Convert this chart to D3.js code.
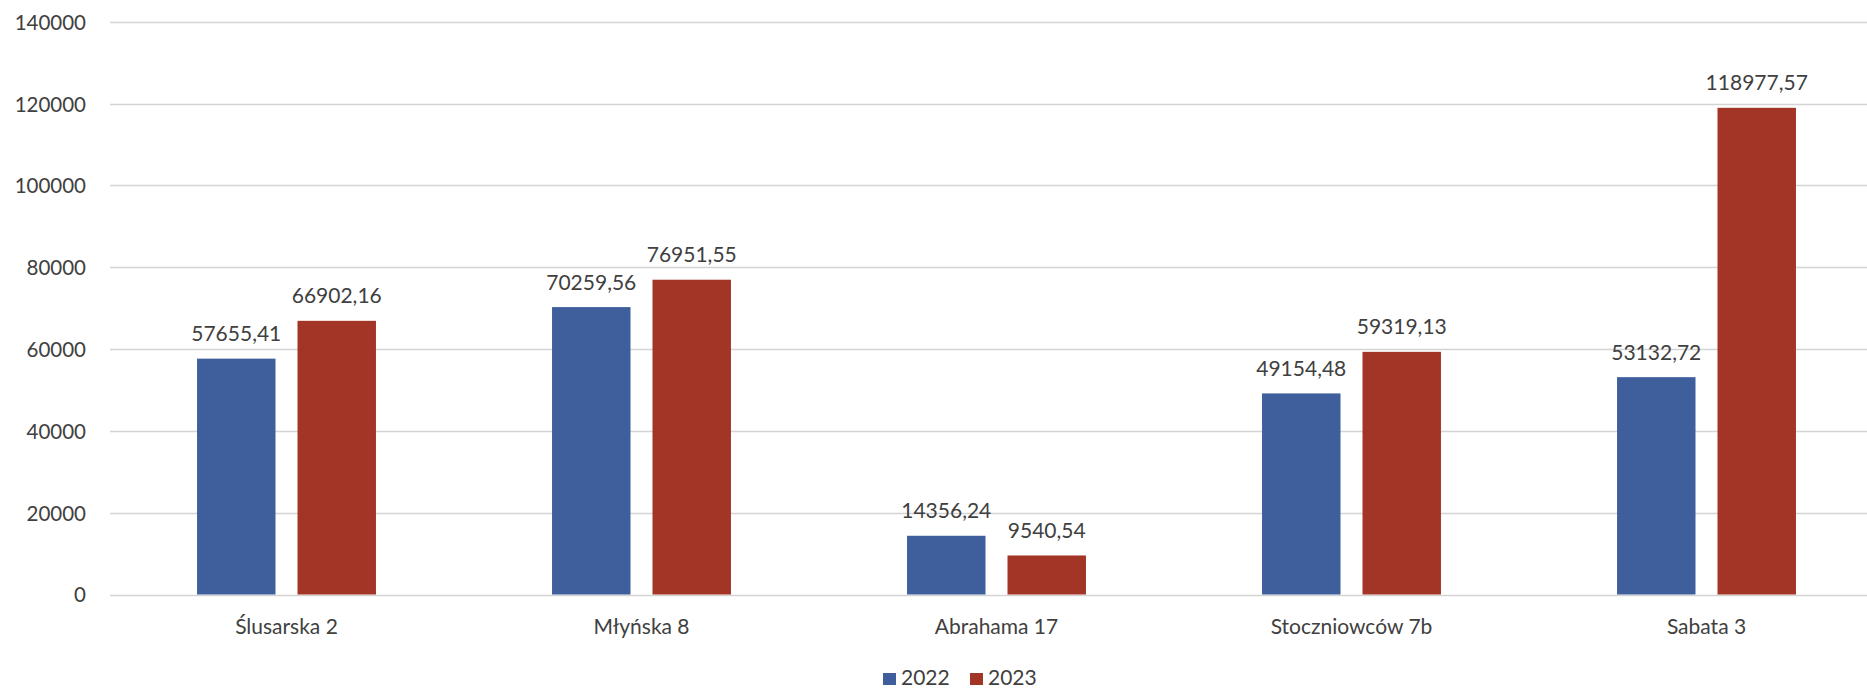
<!DOCTYPE html>
<html>
<head>
<meta charset="utf-8">
<script src="https://cdn.jsdelivr.net/npm/d3@7"></script>
<style>
  html, body { margin: 0; padding: 0; background: #fff; }
  svg { display: block; }
  text { font-family: Lato, "Open Sans", sans-serif; fill: #404040; }
</style>
</head>
<body>
<svg id="chart" width="1867" height="688"></svg>
<script>
const categories = ["Ślusarska 2", "Młyńska 8", "Abrahama 17", "Stoczniowców 7b", "Sabata 3"];
const seriesNames = ["2022", "2023"];
const values2022 = [57655.41, 70259.56, 14356.24, 49154.48, 53132.72];
const values2023 = [66902.16, 76951.55, 9540.54, 59319.13, 118977.57];
const labels2022 = ["57655,41", "70259,56", "14356,24", "49154,48", "53132,72"];
const labels2023 = ["66902,16", "76951,55", "9540,54", "59319,13", "118977,57"];
const yTicks = [0, 20000, 40000, 60000, 80000, 100000, 120000, 140000];
const colors = ["#3f5f9c", "#a33526"];

const svg = d3.select("#chart");
const plotLeft = 109, plotRight = 1884, plotTop = 21.8, plotBottom = 594.5;

const x0 = d3.scaleBand().domain(categories).range([plotLeft, plotRight])
  .paddingInner(0.496).paddingOuter(0.248);
const x1 = d3.scaleBand().domain(seriesNames).range([0, x0.bandwidth()])
  .paddingInner(0.219).paddingOuter(0);
const y = d3.scaleLinear().domain([0, 140000]).range([plotBottom, plotTop]);

// y labels
const yAxis = d3.axisLeft(y).tickValues(yTicks).tickSize(0).tickPadding(0)
  .tickFormat(d => String(d));
const gy = svg.append("g").attr("transform", `translate(86,0)`).call(yAxis);
gy.select(".domain").remove();
gy.selectAll("text").style("font-size", "20.5px").attr("fill", "#595959")
  .style("font-family", "Lato, 'Open Sans', sans-serif").attr("dy", "0.36em");

// gridlines
svg.append("g").selectAll("line").data(yTicks).join("line")
  .attr("x1", 110).attr("x2", 1867)
  .attr("y1", d => Math.round(y(d)) + 0.5).attr("y2", d => Math.round(y(d)) + 0.5)
  .attr("stroke", "#d4d4d4").attr("stroke-width", 1.3);

const data = categories.map((c, i) => ({
  cat: c,
  vals: [
    { s: seriesNames[0], v: values2022[i], l: labels2022[i] },
    { s: seriesNames[1], v: values2023[i], l: labels2023[i] }
  ]
}));

const groups = svg.append("g").selectAll("g").data(data).join("g")
  .attr("transform", d => `translate(${x0(d.cat)},0)`);

groups.selectAll("rect").data(d => d.vals).join("rect")
  .attr("x", d => x1(d.s))
  .attr("width", x1.bandwidth())
  .attr("y", d => y(d.v))
  .attr("height", d => y(0) - y(d.v))
  .attr("fill", (d, i) => colors[i]);

groups.selectAll("text.val").data(d => d.vals).join("text")
  .attr("class", "val")
  .attr("x", d => x1(d.s) + x1.bandwidth() / 2)
  .attr("y", d => y(d.v) - 17.5)
  .attr("text-anchor", "middle")
  .style("font-size", "21px")
  .text(d => d.l);

// x axis labels
const xAxis = d3.axisBottom(x0).tickSize(0).tickPadding(0);
const gx = svg.append("g").attr("transform", `translate(0,${plotBottom})`).call(xAxis);
gx.select(".domain").remove();
gx.selectAll("text").style("font-size", "21px").attr("fill", "#595959")
  .style("font-family", "Lato, 'Open Sans', sans-serif")
  .attr("dy", null).attr("y", 39);

// legend
const legendItems = [
  { name: seriesNames[0], color: colors[0], x: 883 },
  { name: seriesNames[1], color: colors[1], x: 970 }
];
const lg = svg.append("g").selectAll("g").data(legendItems).join("g")
  .attr("transform", d => `translate(${d.x},0)`);
lg.append("rect").attr("x", 0).attr("y", 673).attr("width", 13).attr("height", 12)
  .attr("fill", d => d.color);
lg.append("text").attr("x", 18).attr("y", 685).style("font-size", "21px")
  .attr("fill", "#595959").text(d => d.name);
</script>
</body>
</html>
